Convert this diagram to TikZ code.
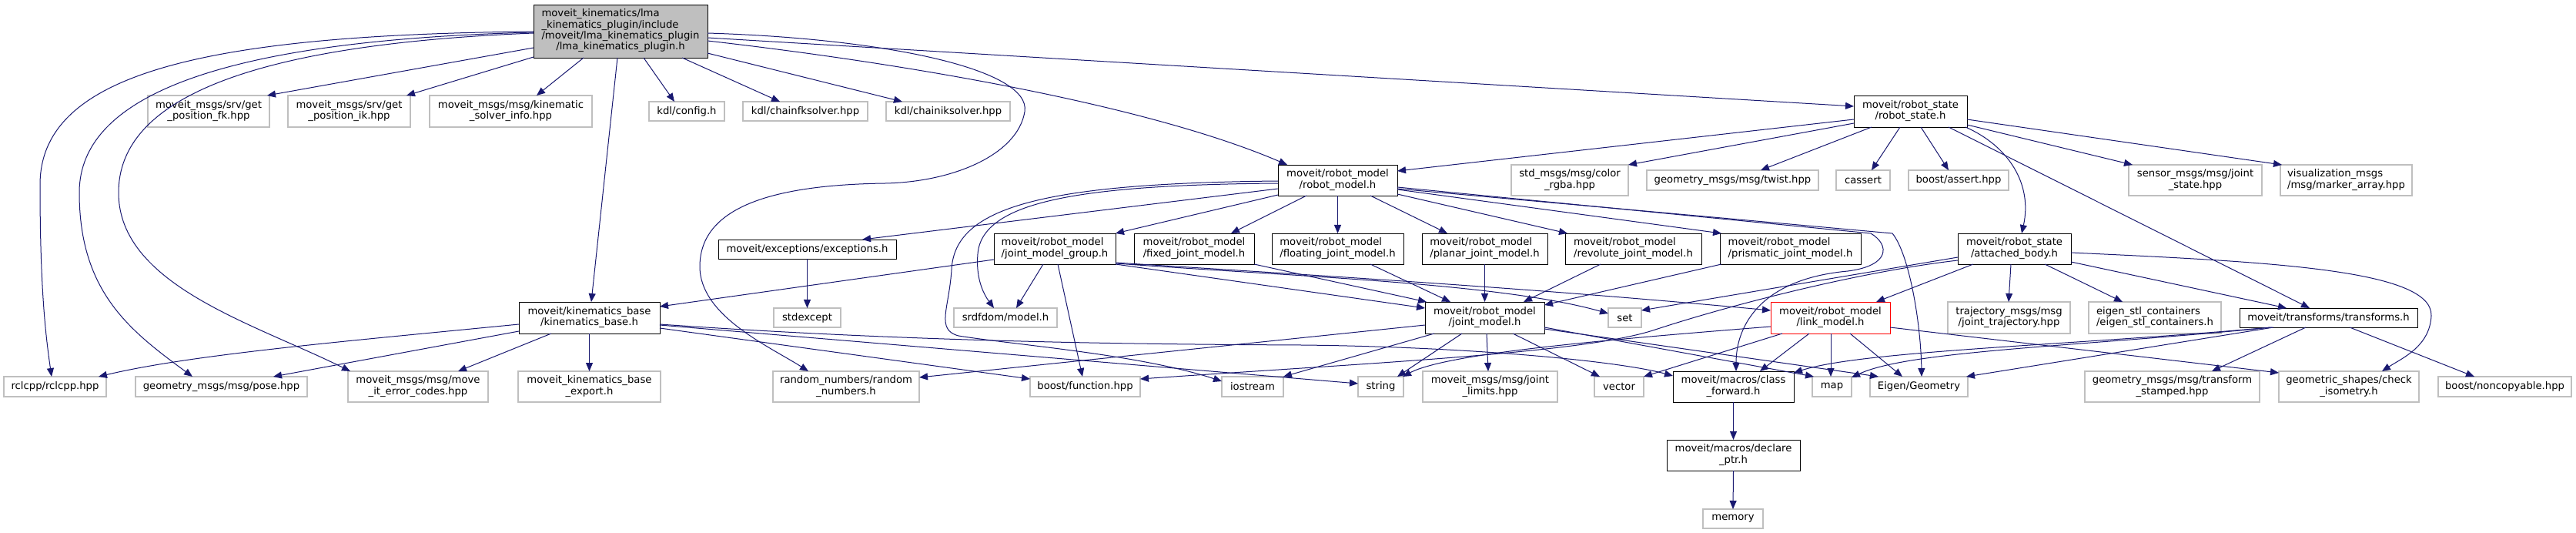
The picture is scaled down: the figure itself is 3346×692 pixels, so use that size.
\documentclass[tikz,border=0pt]{standalone}
\usepackage{fontspec}
\setmainfont{DejaVu Sans}
\usetikzlibrary{arrows.meta,calc}
\definecolor{DepEdge}{HTML}{191970}
\definecolor{DepGrey}{HTML}{BFBFBF}
\newcommand{\inclab}[2]{\begin{tabular}{@{}l@{}}#1\\\multicolumn{1}{@{}c@{}}{#2}\end{tabular}}

\begin{document}
\begin{tikzpicture}[x=1pt,y=-1pt]
  \tikzset{filebox/.style={rectangle,anchor=north west,inner sep=0pt,outer sep=0pt,line width=0.85pt,fill=white,
      font=\fontsize{13.2}{14.3}\selectfont},
    wh/.style 2 args={minimum width=#1,minimum height=#2},
    docfile/.style={filebox,draw=black},
    extfile/.style={filebox,draw=DepGrey,line width=1.1pt},
    rootfile/.style={filebox,draw=black,fill=DepGrey},
    cutfile/.style={filebox,draw=red},
    dep/.style={draw=DepEdge,line width=1pt,-{Triangle[length=11pt,width=9pt]}}}
  \useasboundingbox (0,0) rectangle (3346,692);

  \node[rootfile,wh={226}{69}] (main) at (693,6) {\begin{tabular}{@{}l@{}}moveit\_kinematics/lma\\\_kinematics\_plugin/include\\/moveit/lma\_kinematics\_plugin\\\multicolumn{1}{@{}c@{}}{/lma\_kinematics\_plugin.h}\end{tabular}};

  \node[extfile,wh={158}{41}] (fk) at (192,124) {\inclab{moveit\_msgs/srv/get}{\_position\_fk.hpp}};
  \node[extfile,wh={159}{41}] (ik) at (374,124) {\inclab{moveit\_msgs/srv/get}{\_position\_ik.hpp}};
  \node[extfile,wh={211}{41}] (solver) at (558,124) {\inclab{moveit\_msgs/msg/kinematic}{\_solver\_info.hpp}};
  \node[extfile,wh={98}{25}] (config) at (843,132) {kdl/config.h};
  \node[extfile,wh={162}{25}] (chainfk) at (965,132) {kdl/chainfksolver.hpp};
  \node[extfile,wh={161}{25}] (chainik) at (1151,132) {kdl/chainiksolver.hpp};
  \node[docfile,wh={147}{41}] (rstate) at (2408,124) {\inclab{moveit/robot\_state}{/robot\_state.h}};

  \node[docfile,wh={155}{40}] (rmodel) at (1660,214) {\inclab{moveit/robot\_model}{/robot\_model.h}};
  \node[extfile,wh={152}{40}] (rgba) at (1963,214) {\inclab{std\_msgs/msg/color}{\_rgba.hpp}};
  \node[extfile,wh={223}{26}] (twist) at (2139,221) {geometry\_msgs/msg/twist.hpp};
  \node[extfile,wh={70}{26}] (cassert) at (2385,221) {cassert};
  \node[extfile,wh={130}{26}] (bassert) at (2479,221) {boost/assert.hpp};
  \node[extfile,wh={173}{40}] (jstate) at (2765,214) {\inclab{sensor\_msgs/msg/joint}{\_state.hpp}};
  \node[extfile,wh={171}{40}] (marker) at (2962,214) {\inclab{visualization\_msgs}{/msg/marker\_array.hpp}};

  \node[docfile,wh={231}{25}] (exc) at (933,311) {moveit/exceptions/exceptions.h};
  \node[docfile,wh={158}{40}] (jmg) at (1291,303) {\inclab{moveit/robot\_model}{/joint\_model\_group.h}};
  \node[docfile,wh={156}{40}] (fixed) at (1473,303) {\inclab{moveit/robot\_model}{/fixed\_joint\_model.h}};
  \node[docfile,wh={171}{40}] (floating) at (1652,303) {\inclab{moveit/robot\_model}{/floating\_joint\_model.h}};
  \node[docfile,wh={163}{40}] (planar) at (1847,303) {\inclab{moveit/robot\_model}{/planar\_joint\_model.h}};
  \node[docfile,wh={177}{40}] (revolute) at (2033,303) {\inclab{moveit/robot\_model}{/revolute\_joint\_model.h}};
  \node[docfile,wh={183}{40}] (prismatic) at (2234,303) {\inclab{moveit/robot\_model}{/prismatic\_joint\_model.h}};
  \node[docfile,wh={147}{40}] (abody) at (2543,303) {\inclab{moveit/robot\_state}{/attached\_body.h}};

  \node[docfile,wh={183}{41}] (kbase) at (674,392) {\inclab{moveit/kinematics\_base}{/kinematics\_base.h}};
  \node[extfile,wh={87}{25}] (stdexcept) at (1005,400) {stdexcept};
  \node[extfile,wh={134}{25}] (srdf) at (1239,400) {srdfdom/model.h};
  \node[docfile,wh={155}{41}] (jmodel) at (1851,392) {\inclab{moveit/robot\_model}{/joint\_model.h}};
  \node[extfile,wh={43}{25}] (set) at (2089,400) {set};
  \node[cutfile,wh={155}{41}] (lmodel) at (2300,392) {\inclab{moveit/robot\_model}{/link\_model.h}};
  \node[extfile,wh={159}{41}] (traj) at (2530,392) {\inclab{trajectory\_msgs/msg}{/joint\_trajectory.hpp}};
  \node[extfile,wh={172}{41}] (estl) at (2713,392) {\inclab{eigen\_stl\_containers}{/eigen\_stl\_containers.h}};
  \node[docfile,wh={231}{25}] (transforms) at (2909,400) {moveit/transforms/transforms.h};

  \node[extfile,wh={133}{26}] (rclcpp) at (5,489) {rclcpp/rclcpp.hpp};
  \node[extfile,wh={223}{26}] (pose) at (176,489) {geometry\_msgs/msg/pose.hpp};
  \node[extfile,wh={182}{40}] (errcodes) at (452,482) {\inclab{moveit\_msgs/msg/move}{\_it\_error\_codes.hpp}};
  \node[extfile,wh={185}{40}] (export) at (673,482) {\inclab{moveit\_kinematics\_base}{\_export.h}};
  \node[extfile,wh={190}{40}] (random) at (1004,482) {\inclab{random\_numbers/random}{\_numbers.h}};
  \node[extfile,wh={143}{26}] (function) at (1338,489) {boost/function.hpp};
  \node[extfile,wh={80}{26}] (iostream) at (1587,489) {iostream};
  \node[extfile,wh={59}{26}] (string) at (1764,489) {string};
  \node[extfile,wh={175}{40}] (jlimits) at (1848,482) {\inclab{moveit\_msgs/msg/joint}{\_limits.hpp}};
  \node[extfile,wh={64}{26}] (vector) at (2071,489) {vector};
  \node[docfile,wh={157}{40}] (cforward) at (2173,482) {\inclab{moveit/macros/class}{\_forward.h}};
  \node[extfile,wh={51}{26}] (map) at (2354,489) {map};
  \node[extfile,wh={127}{26}] (eigen) at (2429,489) {Eigen/Geometry};
  \node[extfile,wh={227}{40}] (tstamped) at (2708,482) {\inclab{geometry\_msgs/msg/transform}{\_stamped.hpp}};
  \node[extfile,wh={182}{40}] (isometry) at (2960,482) {\inclab{geometric\_shapes/check}{\_isometry.h}};
  \node[extfile,wh={173}{26}] (noncopy) at (3167,489) {boost/noncopyable.hpp};

  \node[docfile,wh={173}{40}] (declare) at (2165,571) {\inclab{moveit/macros/declare}{\_ptr.h}};
  \node[extfile,wh={78}{25}] (memory) at (2212,661) {memory};

  % lma_kinematics_plugin.h
  \draw[dep] ($(main.north west)+(0,35)$) .. controls (250,45) and (52,100) .. (52,240) .. controls (52,380) and (60,440) .. ($(rclcpp.north west)+(62,0)$);
  \draw[dep] ($(main.north west)+(0,36)$) .. controls (300,52) and (103,120) .. (103,250) .. controls (103,380) and (170,430) .. ($(pose.north west)+(74,0)$);
  \draw[dep] ($(main.north west)+(0,37)$) .. controls (320,58) and (154,130) .. (154,250) .. controls (154,370) and (330,420) .. ($(errcodes.north west)+(3,0)$);
  \draw[dep] ($(main.north west)+(0,56)$) -- ($(fk.north west)+(155,0)$);
  \draw[dep] ($(main.north west)+(0,68)$) -- ($(ik.north west)+(154,0)$);
  \draw[dep] ($(main.north west)+(65,69)$) -- ($(solver.north west)+(139,0)$);
  \draw[dep] ($(main.north west)+(109,69)$) -- ($(kbase.north west)+(94,0)$);
  \draw[dep] ($(main.north west)+(143,69)$) -- ($(config.north west)+(33,0)$);
  \draw[dep] ($(main.north west)+(193,69)$) -- ($(chainfk.north west)+(48,0)$);
  \draw[dep] ($(main.north west)+(226,63)$) -- ($(chainik.north west)+(21,0)$);
  \draw[dep] ($(main.north west)+(226,37)$) .. controls (1150,50) and (1340,90) .. (1331,145) .. controls (1322,200) and (1240,236) .. (1150,238) .. controls (1000,240) and (910,270) .. (909,345) .. controls (908,410) and (1000,450) .. ($(random.north west)+(46,0)$);
  \draw[dep] ($(main.north west)+(226,47)$) .. controls (1200,85) and (1500,140) .. ($(rmodel.north west)+(12,0)$);
  \draw[dep] ($(main.north west)+(226,43)$) -- ($(rstate.north west)+(0,14)$);

  % kinematics_base.h
  \draw[dep] ($(kbase.north west)+(0,29)$) .. controls (450,443) and (250,460) .. ($(rclcpp.north west)+(123,0)$);
  \draw[dep] ($(kbase.north west)+(0,38)$) -- ($(pose.north west)+(179,0)$);
  \draw[dep] ($(kbase.north west)+(42,41)$) -- ($(errcodes.north west)+(143,0)$);
  \draw[dep] (kbase.south) -- (export.north);
  \draw[dep] ($(kbase.north west)+(183,34)$) -- ($(function.north west)+(0,3)$);
  \draw[dep] ($(kbase.north west)+(183,30)$) -- ($(string.north west)+(0,9)$);
  \draw[dep] ($(kbase.north west)+(183,29)$) .. controls (1200,445) and (1500,447) .. (1690,448) .. controls (1900,450) and (2100,468) .. ($(cforward.north west)+(0,6)$);

  % robot_model.h
  \draw[dep] ($(rmodel.north west)+(0,31)$) -- ($(exc.north west)+(187,0)$);
  \draw[dep] ($(rmodel.north west)+(0,39)$) -- ($(jmg.north west)+(158,0)$);
  \draw[dep] ($(rmodel.north west)+(37,40)$) -- ($(fixed.north west)+(126,0)$);
  \draw[dep] (rmodel.south) -- (floating.north);
  \draw[dep] ($(rmodel.north west)+(120,40)$) -- ($(planar.north west)+(33,0)$);
  \draw[dep] ($(rmodel.north west)+(155,38)$) -- ($(revolute.north west)+(3,0)$);
  \draw[dep] ($(rmodel.north west)+(155,32)$) -- ($(prismatic.north west)+(2,0)$);
  \draw[dep] ($(rmodel.north west)+(155,29)$) -- (2430,303) .. controls (2455,318) and (2455,345) .. (2400,352) .. controls (2290,362) and (2255,420) .. ($(cforward.north west)+(82,0)$);
  \draw[dep] ($(rmodel.north west)+(155,31)$) -- (2458,303) .. controls (2480,330) and (2495,420) .. ($(eigen.north west)+(67,0)$);
  \draw[dep] ($(rmodel.north west)+(0,24)$) .. controls (1400,240) and (1275,262) .. (1270,330) .. controls (1267,365) and (1280,385) .. ($(srdf.north west)+(52,0)$);
  \draw[dep] ($(rmodel.north west)+(0,21)$) .. controls (1350,238) and (1240,270) .. (1236,350) .. controls (1233,400) and (1215,428) .. (1245,436) .. controls (1320,448) and (1480,460) .. ($(iostream.north west)+(0,6)$);
  \draw[dep] (exc.south) -- (stdexcept.north);

  % joint_model_group.h
  \draw[dep] ($(jmg.north west)+(0,34)$) -- ($(kbase.north west)+(183,6)$);
  \draw[dep] ($(jmg.north west)+(64,40)$) -- ($(srdf.north west)+(81,0)$);
  \draw[dep] ($(jmg.north west)+(83,40)$) -- ($(function.north west)+(68,0)$);
  \draw[dep] ($(jmg.north west)+(158,40)$) -- ($(jmodel.north west)+(0,8)$);
  \draw[dep] ($(jmg.north west)+(158,39)$) .. controls (1700,360) and (1950,368) .. ($(set.north west)+(0,7)$);
  \draw[dep] ($(jmg.north west)+(158,38)$) .. controls (1750,360) and (2000,375) .. ($(lmodel.north west)+(0,11)$);

  % joint types
  \draw[dep] (fixed.south east) -- ($(jmodel.north west)+(2,0)$);
  \draw[dep] ($(floating.north west)+(128,40)$) -- ($(jmodel.north west)+(33,0)$);
  \draw[dep] (planar.south) -- (jmodel.north);
  \draw[dep] ($(revolute.north west)+(46,40)$) -- ($(jmodel.north west)+(128,0)$);
  \draw[dep] ($(prismatic.north west)+(2,40)$) -- ($(jmodel.north west)+(155,4)$);

  % robot_state.h
  \draw[dep] ($(rstate.north west)+(0,31)$) -- ($(rmodel.north west)+(155,8)$);
  \draw[dep] ($(rstate.north west)+(0,36)$) -- ($(rgba.north west)+(152,0)$);
  \draw[dep] ($(rstate.north west)+(23,41)$) -- ($(twist.north west)+(148,0)$);
  \draw[dep] ($(rstate.north west)+(60,41)$) -- ($(cassert.north west)+(46,0)$);
  \draw[dep] ($(rstate.north west)+(87,41)$) -- ($(bassert.north west)+(52,0)$);
  \draw[dep] ($(rstate.north west)+(147,38)$) -- ($(jstate.north west)+(5,0)$);
  \draw[dep] ($(rstate.north west)+(147,31)$) -- ($(marker.north west)+(2,0)$);
  \draw[dep] ($(rstate.north west)+(145,41)$) .. controls (2610,190) and (2640,240) .. ($(abody.north west)+(83,0)$);
  \draw[dep] ($(rstate.north west)+(123,41)$) -- ($(transforms.north west)+(91,0)$);

  % attached_body.h
  \draw[dep] ($(abody.north west)+(20,40)$) -- ($(lmodel.north west)+(137,0)$);
  \draw[dep] ($(abody.north west)+(0,31)$) -- ($(set.north west)+(43,3)$);
  \draw[dep] ($(abody.north west)+(0,35)$) .. controls (2420,352) and (2250,395) .. (2150,428) .. controls (2060,458) and (1800,470) .. ($(function.north west)+(143,3)$);
  \draw[dep] ($(abody.north west)+(69,40)$) -- ($(traj.north west)+(79,0)$);
  \draw[dep] ($(abody.north west)+(113,40)$) -- ($(estl.north west)+(44,0)$);
  \draw[dep] ($(abody.north west)+(147,37)$) -- ($(transforms.north west)+(61,0)$);
  \draw[dep] ($(abody.north west)+(147,25)$) .. controls (2950,340) and (3160,350) .. (3158,410) .. controls (3156,450) and (3120,465) .. ($(isometry.north west)+(134,0)$);

  % link_model.h
  \draw[dep] ($(lmodel.north west)+(15,41)$) -- ($(vector.north west)+(64,0)$);
  \draw[dep] ($(lmodel.north west)+(50,41)$) -- ($(cforward.north west)+(113,0)$);
  \draw[dep] ($(lmodel.north west)+(78,41)$) -- ($(map.north west)+(24,0)$);
  \draw[dep] ($(lmodel.north west)+(103,41)$) -- ($(eigen.north west)+(42,0)$);
  \draw[dep] ($(lmodel.north west)+(0,32)$) .. controls (2100,440) and (1880,458) .. ($(string.north west)+(58,0)$);
  \draw[dep] ($(lmodel.north west)+(155,33)$) -- ($(isometry.north west)+(0,2)$);

  % joint_model.h
  \draw[dep] ($(jmodel.north west)+(0,30)$) -- ($(random.north west)+(190,8)$);
  \draw[dep] ($(jmodel.north west)+(12,41)$) -- ($(iostream.north west)+(80,0)$);
  \draw[dep] ($(jmodel.north west)+(48,41)$) -- ($(string.north west)+(51,0)$);
  \draw[dep] ($(jmodel.north west)+(80,41)$) -- ($(jlimits.north west)+(85,0)$);
  \draw[dep] ($(jmodel.north west)+(114,41)$) -- ($(vector.north west)+(7,0)$);
  \draw[dep] ($(jmodel.north west)+(155,33)$) -- ($(map.north west)+(2,0)$);
  \draw[dep] ($(jmodel.north west)+(155,35)$) -- ($(eigen.north west)+(11,0)$);

  % transforms.h
  \draw[dep] ($(transforms.north west)+(86,25)$) -- ($(tstamped.north west)+(165,0)$);
  \draw[dep] ($(transforms.north west)+(143,25)$) -- ($(noncopy.north west)+(47,0)$);
  \draw[dep] ($(transforms.north west)+(44,25)$) -- ($(eigen.north west)+(125,0)$);
  \draw[dep] ($(transforms.north west)+(42,25)$) .. controls (2700,450) and (2480,455) .. ($(map.north west)+(51,1)$);
  \draw[dep] ($(transforms.north west)+(40,25)$) .. controls (2700,448) and (2420,455) .. ($(cforward.north west)+(157,2)$);

  % macros
  \draw[dep] (cforward.south) -- (declare.north);
  \draw[dep] (declare.south) -- (memory.north);
\end{tikzpicture}
\end{document}
